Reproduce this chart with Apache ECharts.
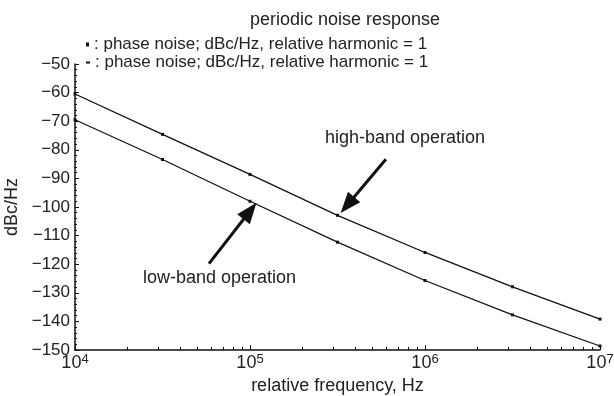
<!DOCTYPE html>
<html>
<head>
<meta charset="utf-8">
<script src="https://cdn.jsdelivr.net/npm/echarts@6/dist/echarts.min.js"></script>
<style>
  html, body { margin: 0; padding: 0; background: #fff; }
  #chart { width: 614px; height: 396px; }
</style>
</head>
<body>
<div id="chart"></div>
<script>
// frequencies (Hz) at half-decade steps
const freqs = [1e4, 3.162e4, 1e5, 3.162e5, 1e6, 3.162e6, 1e7];
// phase noise, dBc/Hz
const highBand = [-60.5, -74.6, -88.6, -102.9, -115.9, -127.9, -139.2];
const lowBand = [-69.5, -83.4, -98.0, -112.3, -125.7, -137.7, -148.6];
const yTicks = [-150, -50, 10];
const legendText = ": phase noise; dBc/Hz, relative harmonic = 1";

const FONT = "Liberation Sans";

const chart = echarts.init(document.getElementById("chart"));

const pairs = (ys) => freqs.map((f, i) => [f, ys[i]]);

// arrow annotation between two data-space points
const arrow = (from, to) => [{ coord: from }, { coord: to }];

const arrowLine = (from, to) => ({
  silent: true,
  symbol: ["none", "triangle"],
  symbolSize: [16, 21],
  lineStyle: { color: "#111", width: 3, type: "solid" },
  label: { show: false },
  data: [arrow(from, to)],
});

chart.setOption({
  animation: false,
  textStyle: { fontFamily: FONT, color: "#222" },
  title: {
    text: "periodic noise response",
    left: 340,
    textAlign: "center",
    top: 6,
    textStyle: { fontFamily: FONT, fontSize: 18, fontWeight: "normal", color: "#222" },
  },
  legend: [
    {
      data: ["high"],
      left: 81,
      top: 31,
      icon: "rect",
      itemWidth: 3,
      itemHeight: 4,
      itemGap: 0,
      formatter: () => legendText,
      textStyle: { fontFamily: FONT, fontSize: 17, color: "#222" },
    },
    {
      data: ["low"],
      left: 81,
      top: 49,
      icon: "rect",
      itemWidth: 4,
      itemHeight: 2,
      itemGap: 0,
      formatter: () => legendText,
      textStyle: { fontFamily: FONT, fontSize: 17, color: "#222" },
    },
  ],
  grid: { left: 75, right: 14, top: 64, bottom: 46, containLabel: false, outerBoundsMode: "none" },
  xAxis: {
    type: "log",
    logBase: 10,
    min: freqs[0],
    max: freqs[freqs.length - 1],
    name: "relative frequency, Hz",
    nameLocation: "middle",
    nameGap: 27,
    nameTextStyle: { fontFamily: FONT, fontSize: 18, color: "#222" },
    axisLine: { lineStyle: { color: "#111", width: 1.5 } },
    axisTick: { inside: true, length: 5, lineStyle: { color: "#111" } },
    minorTick: { show: true, splitNumber: 9, length: 3, lineStyle: { color: "#111" } },
    splitLine: { show: false },
    axisLabel: {
      margin: 3,
      fontFamily: FONT,
      fontSize: 18,
      color: "#222",
      formatter: (v) => "10{sup|" + Math.round(Math.log10(v)) + "}",
      rich: {
        sup: { fontFamily: FONT, fontSize: 13, color: "#222", verticalAlign: "top", padding: [0, 0, 8, 0] },
      },
    },
  },
  yAxis: {
    type: "value",
    min: yTicks[0],
    max: yTicks[1],
    interval: yTicks[2],
    name: "dBc/Hz",
    nameLocation: "middle",
    nameGap: 48,
    nameTextStyle: { fontFamily: FONT, fontSize: 18, color: "#222" },
    axisLine: { show: true, lineStyle: { color: "#111", width: 1.5 } },
    axisTick: { inside: true, length: 4, lineStyle: { color: "#111" } },
    minorTick: { show: true, splitNumber: 5, length: 2, lineStyle: { color: "#111" } },
    splitLine: { show: false },
    axisLabel: {
      margin: 5,
      fontFamily: FONT,
      fontSize: 17,
      color: "#222",
      formatter: (v) => String(v).replace("-", "\u2212"),
    },
  },
  series: [
    {
      name: "high",
      type: "line",
      data: pairs(highBand),
      symbol: "rect",
      symbolSize: 3,
      showSymbol: true,
      itemStyle: { color: "#111" },
      lineStyle: { color: "#111", width: 1.3 },
      markLine: arrowLine([5.98e5, -83.3], [3.6e5, -99.3]),
    },
    {
      name: "low",
      type: "line",
      data: pairs(lowBand),
      symbol: "rect",
      symbolSize: 3,
      showSymbol: true,
      itemStyle: { color: "#111" },
      lineStyle: { color: "#111", width: 1.3 },
      markLine: arrowLine([5.83e4, -119.8], [1e5, -101.4]),
    },
  ],
  graphic: [
    {
      type: "text",
      left: 325,
      top: 129,
      style: { text: "high-band operation", font: "18px " + FONT, fill: "#222" },
    },
    {
      type: "text",
      left: 143,
      top: 269,
      style: { text: "low-band operation", font: "18px " + FONT, fill: "#222" },
    },
  ],
});
</script>
</body>
</html>
